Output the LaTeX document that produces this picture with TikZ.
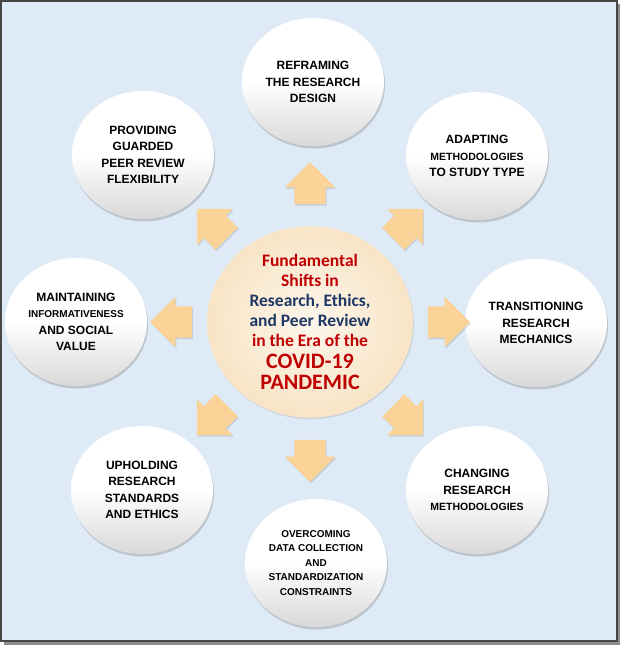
\documentclass[tikz,border=0pt]{standalone}
\usepackage{fontspec}
\setmainfont{Liberation Sans}
\newfontfamily\hubfont{Carlito}
\usepackage{tikz}
\usetikzlibrary{shapes.geometric,shapes.arrows,shadows,calc,positioning}
\definecolor{paneblue}{HTML}{DEEAF6}
\definecolor{panerim}{HTML}{474747}
\definecolor{arrowtop}{HTML}{FCE0B0}
\definecolor{arrowbot}{HTML}{F8CE8C}
\definecolor{hubcore}{HTML}{FDF6EA}
\definecolor{hubrim}{HTML}{F8E4C6}
\definecolor{hubred}{HTML}{C00000}
\definecolor{hubnavy}{HTML}{1F3864}
\tikzset{
  petal/.style ={ellipse,minimum width=142pt,minimum height=128pt,inner sep=0pt,
                 top color=white,bottom color=black!15,middle color=white,
                 align=center,font=\fontsize{12}{16.5}\selectfont\bfseries,
                 drop shadow={opacity=0.35,shadow xshift=1pt,shadow yshift=-2.5pt}},
  hubdisc/.style={ellipse,minimum width=206pt,minimum height=190pt,inner sep=0pt,
                 inner color=hubcore,outer color=hubrim,align=center,
                 font=\hubfont\fontsize{17.5}{20}\selectfont\bfseries,
                 drop shadow={opacity=0.2,shadow xshift=1pt,shadow yshift=-1.5pt}},
  bulge/.style ={single arrow,single arrow head extend=9.5pt,minimum width=50pt,
                 minimum height=42pt,inner xsep=0pt,inner ysep=15.5pt,
                 fill=arrowbot!70!arrowtop,
                 drop shadow={opacity=0.25,shadow xshift=1pt,shadow yshift=-1.5pt}}
}
\newcommand{\smaller}[1]{{\fontsize{10.5}{16.5}\selectfont #1}}

\begin{document}
\begin{tikzpicture}[x=1pt,y=-1pt]
  \useasboundingbox (0,0) rectangle (620,645);
  % frame with its shadow
  \fill[black!45] (4,4) rectangle (620,645);
  \draw[fill=paneblue,draw=panerim,line width=1.2pt] (1,1) rectangle (617,641);

  % centre disc
  \node[hubdisc] (hub) at (310,322)
    {\textcolor{hubred}{Fundamental}\\
     \textcolor{hubred}{Shifts in}\\
     \textcolor{hubnavy}{Research, Ethics,}\\
     \textcolor{hubnavy}{and Peer Review}\\
     \textcolor{hubred}{in the Era of the}\\[2pt]
     \textcolor{hubred}{\fontsize{22}{23}\selectfont COVID-19}\\[1pt]
     \textcolor{hubred}{\fontsize{22}{23}\selectfont PANDEMIC}};

  % outer petals
  \node[petal] (reframe)  at (313,82)  {REFRAMING\\THE RESEARCH\\DESIGN};
  \node[petal] (adapt)    at (477,156) {ADAPTING\\\smaller{METHODOLOGIES}\\TO STUDY TYPE};
  \node[petal] (mechanic) at (536,323) {TRANSITIONING\\RESEARCH\\MECHANICS};
  \node[petal] (change)   at (477,490) {CHANGING\\RESEARCH\\\smaller{METHODOLOGIES}};
  \node[petal,font=\fontsize{10}{14.5}\selectfont\bfseries] (overcome) at (316,563)
    {OVERCOMING\\DATA COLLECTION\\AND\\STANDARDIZATION\\CONSTRAINTS};
  \node[petal] (uphold)   at (142,490) {UPHOLDING\\RESEARCH\\STANDARDS\\AND ETHICS};
  \node[petal] (maintain) at (76,322)
    {MAINTAINING\\{\fontsize{10}{16.5}\selectfont INFORMATIVENESS}\\AND SOCIAL\\VALUE};
  \node[petal] (guard)    at (143,155) {PROVIDING\\GUARDED\\PEER REVIEW\\FLEXIBILITY};

  % block arrows pointing out of the disc
  \foreach \a/\nm in {90/up,45/ne,0/east,-45/se,-90/down,-135/sw,180/west,135/nw}
    \node[bulge,rotate=\a] (arr-\nm) at ($(hub.center)+(\a:131pt)$) {};
\end{tikzpicture}
\end{document}
